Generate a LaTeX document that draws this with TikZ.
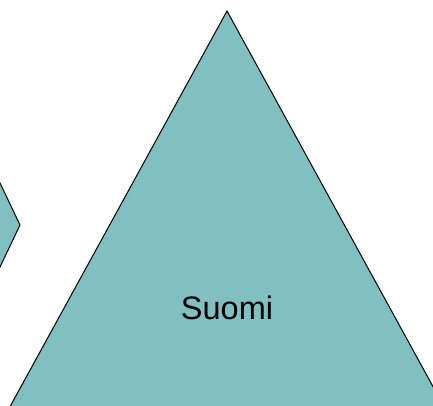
\documentclass[tikz,border=0pt]{standalone}
\usepackage{fontspec}
\setmainfont{Liberation Sans}
\definecolor{tealfill}{HTML}{80C0C0}
\begin{document}
\begin{tikzpicture}[x=1pt,y=1pt,
  shapefill/.style={fill=tealfill,draw=black,line width=1pt,line join=miter}]
\useasboundingbox (0,0) rectangle (433,405);
\clip (0,0) rectangle (433,405);
\fill[white] (0,0) rectangle (433,405);
% left partial shape
\draw[shapefill] (-20,264) -- (20,180) -- (-20,96) -- cycle;
% main triangle
\draw[shapefill] (227,394) -- (476,-60) -- (-22,-60) -- cycle;
\node[font=\fontsize{32.5}{38}\selectfont] (label) at (227,97) {Suomi};
\end{tikzpicture}
\end{document}
